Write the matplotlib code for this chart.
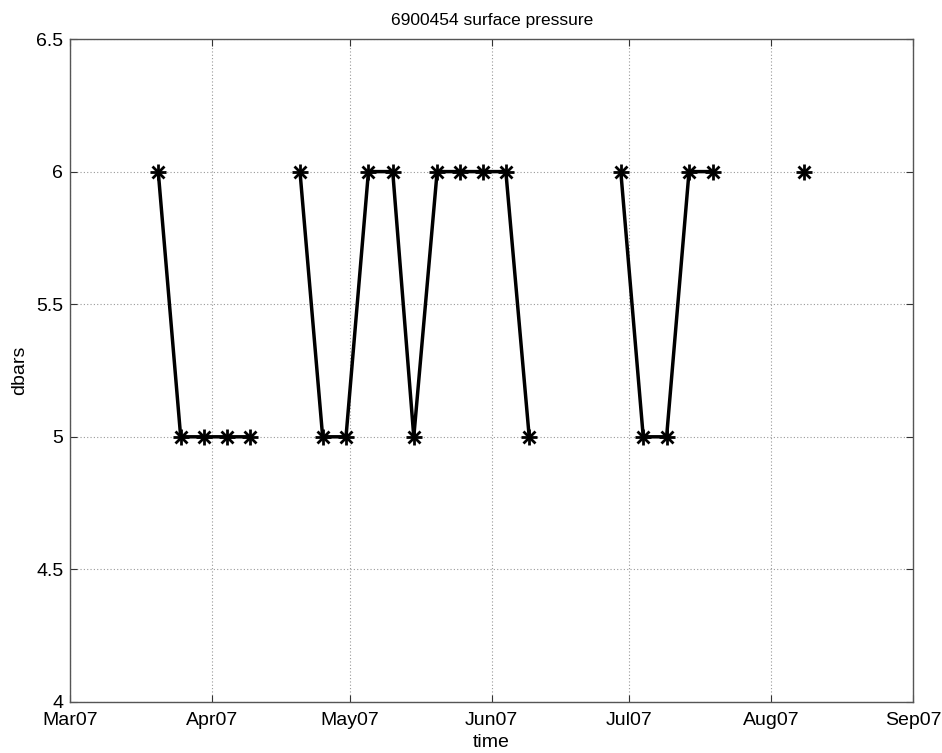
import matplotlib
matplotlib.use("Agg")
import matplotlib.pyplot as plt
import matplotlib.dates as mdates
import numpy as np
import datetime as dt

plt.rcParams['font.family'] = ['Liberation Sans', 'DejaVu Sans']

# days since 2007-03-01 for each profile (NaN = missing cycle)
day_offsets = [19.2, 24.1, 29.2, 34.2, 39.2, 44.7, 50.15, 55.1, 60.2, 65.1, 70.4,
               75.0, 80.1, 85.1, 90.2, 95.1, 100.2, 105.2, 110.2, 115.2,
               120.2, 125.1, 130.2, 135.1, 140.3, 145.2, 150.2, 155.2, 160.2]
pressure = [6, 5, 5, 5, 5, np.nan, 6, 5, 5, 6, 6,
            5, 6, 6, 6, 6, 5, np.nan, np.nan, np.nan,
            6, 5, 5, 6, 6, np.nan, np.nan, np.nan, 6]
tick_dates = ["2007-03-01", "2007-04-01", "2007-05-01", "2007-06-01",
              "2007-07-01", "2007-08-01", "2007-09-01"]
tick_labels = ["Mar07", "Apr07", "May07", "Jun07", "Jul07", "Aug07", "Sep07"]
y_ticks = [4, 4.5, 5, 5.5, 6, 6.5]
y_tick_labels = ["4", "4.5", "5", "5.5", "6", "6.5"]

base = dt.datetime(2007, 3, 1)
x = [mdates.date2num(base + dt.timedelta(days=d)) for d in day_offsets]
xt = [mdates.date2num(dt.datetime.strptime(s, "%Y-%m-%d")) for s in tick_dates]

fig = plt.figure(figsize=(9.42, 7.53), dpi=100)
ax = fig.add_axes([70.3/942, 1-702/753, (913-70.3)/942, (702-39)/753])

ax.plot(x, pressure, color='black', linewidth=2.5, zorder=3)
# MATLAB-style asterisk marker: '+' overlaid with 'x'
ax.plot(x, pressure, linestyle='none', marker='+', markersize=12,
        markeredgewidth=2.0, color='black', zorder=4)
ax.plot(x, pressure, linestyle='none', marker='x', markersize=8.5,
        markeredgewidth=2.0, color='black', zorder=4)

ax.set_xlim(xt[0], xt[-1])
ax.set_ylim(4, 6.5)
ax.set_xticks(xt)
ax.set_xticklabels(tick_labels)
ax.set_yticks(y_ticks)
ax.set_yticklabels(y_tick_labels)

ax.grid(True, color='#999999', linestyle=(0, (1, 2)), linewidth=0.8)
ax.tick_params(direction='in', length=5, width=0.8, top=True, right=True,
               labelsize=14, colors='#333333', labelcolor='black')
ax.tick_params(axis='x', pad=7)
ax.tick_params(axis='y', pad=5)
for s in ax.spines.values():
    s.set_color('#555555')
    s.set_linewidth(1.0)

ax.set_title("6900454 surface pressure", fontsize=12.5, pad=10)
ax.set_xlabel("time", fontsize=14, labelpad=4)
ax.set_ylabel("dbars", fontsize=14, labelpad=6)

fig.savefig("out.png", dpi=100)
